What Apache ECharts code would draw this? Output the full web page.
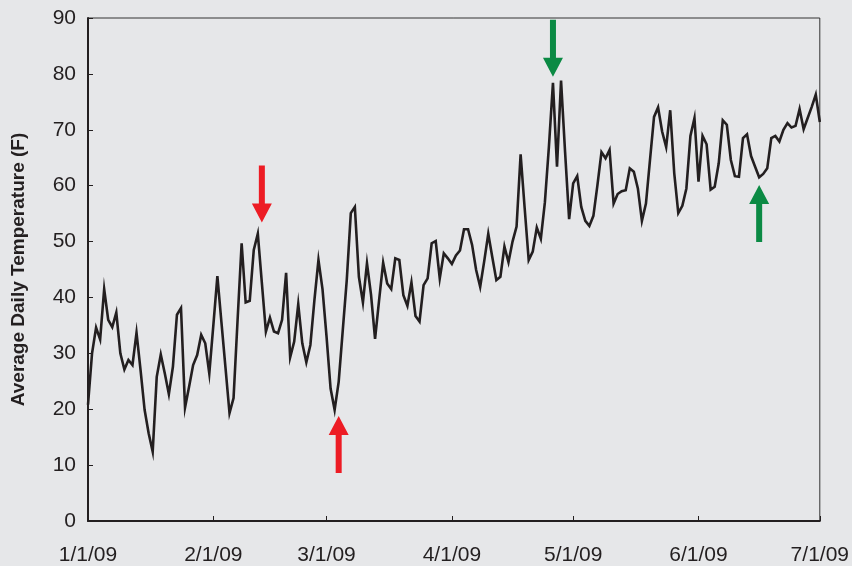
<!DOCTYPE html>
<html>
<head>
<meta charset="utf-8">
<script src="https://cdn.jsdelivr.net/npm/echarts@6/dist/echarts.min.js"></script>
<style>
  html, body { margin: 0; padding: 0; background: #e6e7e9; }
  #chart { width: 852px; height: 566px; }
</style>
</head>
<body>
<div id="chart"></div>
<script>
// Daily average temperature (F), Jan 1 2009 .. Jul 1 2009
const startDate = [2009, 0, 1];
const dayCount = 182;
const temperatures = [
  20.8, 30.0, 34.6, 32.5, 41.5, 36.0, 34.7, 37.3, 30.0, 27.1,
  28.8, 27.9, 33.7, 27.0, 19.9, 15.7, 12.4, 25.8, 29.8, 26.4,
  22.7, 27.6, 36.9, 38.1, 20.3, 24.0, 27.9, 29.7, 33.3, 31.8,
  26.4, 35.0, 43.8, 35.6, 27.5, 19.3, 22.0, 36.0, 49.7, 39.1,
  39.4, 48.5, 51.4, 42.6, 33.9, 36.4, 33.9, 33.6, 36.0, 44.4,
  29.3, 32.1, 38.8, 31.8, 28.4, 31.5, 39.5, 46.7, 41.5, 33.0,
  23.7, 19.9, 24.9, 34.0, 43.1, 55.1, 56.2, 43.7, 39.1, 46.1,
  40.5, 32.6, 39.5, 46.2, 42.5, 41.5, 47.0, 46.7, 40.4, 38.5,
  42.7, 36.7, 35.7, 42.2, 43.4, 49.7, 50.1, 43.4, 47.9, 47.0,
  46.0, 47.5, 48.4, 52.2, 52.2, 49.4, 44.9, 41.9, 46.5, 51.4,
  47.2, 43.1, 43.7, 49.1, 46.3, 50.0, 52.7, 65.6, 56.0, 46.7,
  48.2, 52.5, 50.5, 57.0, 67.0, 78.4, 63.4, 78.8, 66.0, 54.0,
  60.4, 61.7, 56.2, 53.7, 52.8, 54.6, 60.1, 66.0, 64.9, 66.4,
  56.8, 58.5, 59.0, 59.2, 63.1, 62.5, 59.5, 53.7, 56.8, 64.6,
  72.3, 74.0, 69.7, 66.9, 73.5, 62.2, 55.1, 56.4, 59.5, 68.9,
  72.1, 60.7, 68.9, 67.4, 59.3, 59.8, 64.0, 71.7, 70.9, 64.6,
  61.7, 61.6, 68.5, 69.2, 65.3, 63.4, 61.5, 62.1, 63.1, 68.5,
  68.9, 67.9, 70.0, 71.2, 70.4, 70.7, 73.7, 70.1, 72.1, 74.1,
  76.3, 71.4
];
const yTicks = [0, 10, 20, 30, 40, 50, 60, 70, 80, 90];
const yAxisTitle = 'Average Daily Temperature (F)';

// Annotation arrows (day index from Jan 1, centre value, direction, colour)
const arrowDays = [42.6, 62.2, 115.3, 166.4];
const arrowCenters = [58.5, 13.7, 84.6, 55.0];
const arrowDirs = ['down', 'up', 'down', 'up'];
const arrowColors = ['#ed1c24', '#ed1c24', '#0b8a44', '#0b8a44'];

const categories = [];
for (let i = 0; i < dayCount; i++) {
  const d = new Date(startDate[0], startDate[1], startDate[2] + i);
  categories.push((d.getMonth() + 1) + '/' + d.getDate() + '/' + String(d.getFullYear()).slice(2));
}
const isMonthStart = (idx) => categories[idx].split('/')[1] === '1';

const downPath = 'path://M7,0L13,0L13,38L20,38L10,57L0,38L7,38Z';
const upPath = 'path://M10,0L20,19L13,19L13,57L7,57L7,19L0,19Z';

const markData = arrowDays.map((d, i) => ({
  coord: [d, arrowCenters[i]],
  symbol: arrowDirs[i] === 'down' ? downPath : upPath,
  symbolSize: [20, 57],
  itemStyle: { color: arrowColors[i] },
  label: { show: false }
}));

const textColor = '#231f20';
const font = '"Liberation Sans", Arial, Helvetica, sans-serif';

const chart = echarts.init(document.getElementById('chart'), null, { renderer: 'canvas' });
chart.setOption({
  backgroundColor: '#e6e7e9',
  animation: false,
  grid: {
    left: 88, top: 18, width: 735, height: 503,
    show: true, borderColor: '#333333', borderWidth: 1,
    backgroundColor: 'transparent'
  },
  xAxis: {
    type: 'category',
    data: categories,
    boundaryGap: false,
    axisLine: { show: true, lineStyle: { color: textColor, width: 2 } },
    axisTick: {
      show: true, inside: true, length: 5, alignWithLabel: true,
      interval: (idx) => isMonthStart(idx),
      lineStyle: { color: textColor, width: 1 }
    },
    axisLabel: {
      interval: (idx) => isMonthStart(idx),
      color: textColor, fontSize: 21, fontFamily: font, margin: 24
    },
    splitLine: { show: false }
  },
  yAxis: {
    type: 'value',
    min: yTicks[0], max: yTicks[yTicks.length - 1], interval: 10,
    name: yAxisTitle,
    nameLocation: 'middle',
    nameGap: 60,
    nameTextStyle: { color: textColor, fontSize: 19, fontWeight: 'bold', fontFamily: font },
    axisLine: { show: true, lineStyle: { color: textColor, width: 2 } },
    axisTick: { show: true, inside: true, length: 5, lineStyle: { color: textColor, width: 1 } },
    axisLabel: { color: textColor, fontSize: 21, fontFamily: font, margin: 12 },
    splitLine: { show: false }
  },
  series: [{
    type: 'line',
    data: temperatures,
    showSymbol: false,
    symbol: 'none',
    lineStyle: { color: textColor, width: 2.6, join: 'miter' },
    itemStyle: { color: textColor },
    markPoint: {
      symbolKeepAspect: false,
      data: markData,
      label: { show: false },
      silent: true
    }
  }]
});
</script>
</body>
</html>
